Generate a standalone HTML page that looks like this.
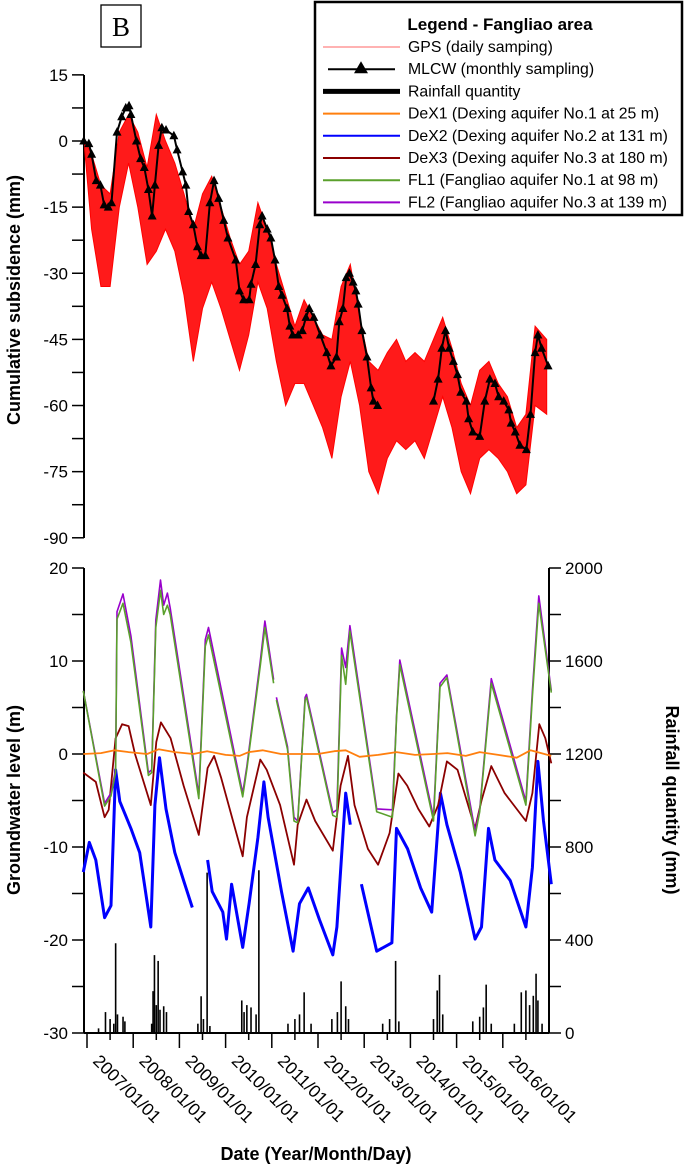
<!DOCTYPE html>
<html><head><meta charset="utf-8"><style>
html,body{margin:0;padding:0;background:#fff;}
svg{display:block;font-family:"Liberation Sans",Arial,sans-serif;}
</style></head><body>
<svg id="chart" width="685" height="1166" viewBox="0 0 685 1166" xmlns="http://www.w3.org/2000/svg">
<g id="topPanel"></g>
<g id="botPanel"></g>
<g>
<rect x="101" y="5" width="40" height="42" fill="#fff" stroke="#000" stroke-width="1.3"/>
<text x="121" y="36" text-anchor="middle" font-family="Liberation Serif,serif" font-size="27">B</text>
</g>
<text transform="translate(20,300) rotate(-90)" text-anchor="middle" font-weight="bold" font-size="18">Cumulative subsidence (mm)</text>
<text transform="translate(20,800) rotate(-90)" text-anchor="middle" font-weight="bold" font-size="18">Groundwater level (m)</text>
<text transform="translate(666,800) rotate(90)" text-anchor="middle" font-weight="bold" font-size="18">Rainfall quantity (mm)</text>
<text x="316" y="1160" text-anchor="middle" font-weight="bold" font-size="18">Date (Year/Month/Day)</text>
<g id="legend">
<rect x="315" y="2" width="367" height="213" fill="#fff" stroke="#000" stroke-width="2.5"/>
<text x="500" y="30" text-anchor="middle" font-weight="bold" font-size="17">Legend - Fangliao area</text>
</g>
</svg>
<script>
// Subsidence (top panel)
const mlcwT=[2006.93,2007.04,2007.10,2007.20,2007.29,2007.37,2007.46,2007.53,2007.65,2007.75,2007.84,2007.91,2007.95,2008.07,2008.16,2008.24,2008.33,2008.41,2008.47,2008.55,2008.62,2008.71,2008.88,2008.95,2009.07,2009.14,2009.20,2009.30,2009.39,2009.47,2009.56,2009.66,2009.75,2009.85,2009.96,2010.05,2010.22,2010.30,2010.39,2010.51,2010.55,2010.65,2010.74,2010.79,2010.90,2010.98,2011.07,2011.15,2011.22,2011.33,2011.39,2011.45,2011.57,2011.66,2011.74,2011.81,2011.91,2012.05,2012.19,2012.28,2012.40,2012.46,2012.54,2012.61,2012.68,2012.76,2012.82,2012.87,2012.95,2013.06,2013.15,2013.20,2013.29];
const mlcwV=[0,-0.6,-3,-9,-10,-14.5,-15,-14,2,5.5,7.5,8,6,0,-4,-6,-11,-17,-10,-1,3,2.5,1.2,-2,-7,-10,-16,-19,-24,-26,-26,-14,-9,-13,-18,-22,-27,-34,-36,-36,-32.5,-28,-19,-17,-20,-22,-27,-33,-35,-38,-42,-44,-44,-43,-40,-38,-40,-44,-48,-51,-49,-41,-38,-31,-30,-32,-34,-37,-43,-49,-56,-59,-60];
const mlcwT2=[2014.50,2014.60,2014.68,2014.76,2014.84,2014.93,2015.02,2015.09,2015.21,2015.26,2015.35,2015.50,2015.61,2015.72,2015.83,2015.91,2016.02,2016.13,2016.18,2016.27,2016.37,2016.51,2016.60,2016.70,2016.76,2016.84,2016.98];
const mlcwV2=[-59,-54,-47,-43,-47,-50,-53,-57,-59,-63,-66,-67,-59,-54,-55,-58,-59,-61,-64,-66,-69,-70,-62,-48,-44,-47,-51];
const gpsT=[2006.95,2007.1,2007.3,2007.5,2007.7,2007.9,2008.1,2008.3,2008.5,2008.7,2008.9,2009.1,2009.3,2009.5,2009.7,2009.9,2010.1,2010.3,2010.5,2010.7,2010.9,2011.1,2011.3,2011.5,2011.7,2011.9,2012.1,2012.3,2012.5,2012.7,2012.9,2013.1,2013.3,2013.5,2013.7,2013.9,2014.1,2014.3,2014.5,2014.7,2014.9,2015.1,2015.3,2015.5,2015.7,2015.9,2016.1,2016.3,2016.5,2016.7,2016.95];
const gpsHi=[0,-3,-10,-12,2,6,2,-6,6,0,-5,-12,-20,-12,-8,-15,-22,-28,-25,-14,-20,-28,-35,-42,-36,-40,-44,-45,-33,-28,-40,-50,-52,-48,-45,-50,-48,-50,-45,-40,-47,-55,-60,-52,-50,-55,-58,-65,-62,-42,-45];
const gpsLo=[-2,-20,-33,-33,-15,-5,-15,-28,-25,-20,-25,-35,-50,-38,-32,-38,-45,-52,-44,-32,-38,-50,-60,-55,-55,-60,-65,-72,-58,-50,-60,-75,-80,-72,-68,-70,-68,-72,-65,-58,-65,-75,-80,-72,-70,-72,-75,-80,-78,-60,-62];
const subTicks=[15,0,-15,-30,-45,-60,-75,-90];
// Groundwater (bottom panel)
const fl2T=[2006.92,2007.38,2007.52,2007.62,2007.65,2007.78,2007.95,2008.33,2008.40,2008.49,2008.59,2008.66,2008.74,2008.80,2009.42,2009.56,2009.63,2010.37,2010.46,2010.75,2010.85,2011.04];
const fl2V=[6.8,-5.3,-4.2,-1.7,15.3,17.2,12.7,-2,-1.7,14.4,18.7,16,17.3,15.7,-4.4,12.3,13.6,-4.2,-1.3,10,14.3,8];
const fl2Tb=[2011.10,2011.34,2011.48,2011.56,2011.72,2011.75,2012.32,2012.41,2012.51,2012.60,2012.69,2013.27,2013.61,2013.70,2013.77,2014.50,2014.64,2014.79,2015.40,2015.50,2015.75,2016.50,2016.64,2016.78,2017.05];
const fl2Vb=[6.1,0.8,-6.8,-7.2,6.1,6.4,-6.3,-6,11.4,9.3,13.8,-5.9,-6,4,10.1,-6.8,7.6,8.5,-8.3,-6,8.1,-5.1,6.8,17,6.8];
const fl1V=[6.8,-5.6,-4.5,-2,14.5,16.2,12,-2.3,-2,13.6,17.6,15,16,15,-4.8,11.6,12.8,-4.6,-1.6,9.5,13.6,7.6];
const fl1Vb=[5.8,0.5,-7.2,-7.4,5.8,6.1,-6.6,-6.8,10.6,7.5,13.2,-6.2,-6.8,3.8,9.6,-7.2,7.2,8.2,-8.8,-6.2,7.6,-5.5,6.2,16.2,6.6];
const dex3T=[2006.92,2007.19,2007.38,2007.47,2007.62,2007.76,2007.90,2008.04,2008.38,2008.50,2008.60,2008.81,2009.09,2009.42,2009.61,2009.75,2009.90,2010.37,2010.46,2010.75,2010.89,2011.18,2011.48,2011.56,2011.75,2011.94,2012.32,2012.49,2012.65,2012.79,2013.08,2013.30,2013.55,2013.74,2013.93,2014.17,2014.41,2014.60,2014.79,2015.02,2015.40,2015.54,2015.75,2016.04,2016.50,2016.64,2016.79,2016.92,2017.05];
const dex3V=[-2,-3,-6.8,-6,1.7,3.2,3,0,-5.5,1.3,3.4,1.7,-3.4,-8.7,-1.5,-0.2,-2.5,-11,-6.8,-0.6,-1.7,-5.5,-11.9,-7.6,-4.9,-7.2,-10.4,-3.4,-0.2,-5.5,-10.2,-11.9,-8.5,-2.1,-3.4,-5.9,-7.8,-5.5,-0.8,-1.7,-8,-5,-1.3,-4.2,-7.2,-4.2,3.2,1.7,-1];
const dex2T=[2006.92,2007.05,2007.19,2007.38,2007.52,2007.62,2007.71,2007.95,2008.14,2008.38,2008.47,2008.57,2008.71,2008.90,2009.09,2009.28];
const dex2V=[-12.7,-9.5,-11.4,-17.6,-16.3,-1.7,-5.1,-8,-10.6,-18.6,-5.5,-0.4,-5.9,-10.6,-13.6,-16.5];
const dex2Tb=[2009.61,2009.71,2009.94,2010.02,2010.13,2010.37,2010.51,2010.70,2010.83,2010.92,2011.21,2011.46,2011.60,2011.79,2012.03,2012.32,2012.41,2012.60,2012.70];
const dex2Vb=[-11.4,-14.8,-17,-19.9,-14,-20.8,-16,-9,-3,-6.8,-14.8,-21.2,-16.1,-14.4,-17.8,-21.6,-18.6,-4.2,-7.6];
const dex2Tc=[2012.94,2013.27,2013.60,2013.70,2013.94,2014.22,2014.46,2014.65,2014.79,2015.08,2015.40,2015.54,2015.69,2015.83,2016.16,2016.50,2016.64,2016.76,2016.88,2017.05];
const dex2Vc=[-14,-21.2,-20.3,-8,-10.2,-14.4,-17,-4.2,-7.6,-12.7,-19.9,-18.6,-8,-11.4,-13.6,-18.6,-12.2,-0.8,-7.2,-14];
const dex1T=[2006.92,2007.3,2007.6,2007.9,2008.3,2008.55,2008.9,2009.3,2009.6,2010.0,2010.3,2010.5,2010.8,2011.2,2011.6,2012.0,2012.35,2012.6,2012.9,2013.3,2013.7,2014.1,2014.5,2014.8,2015.2,2015.5,2015.9,2016.3,2016.6,2017.05];
const dex1V=[0,0.1,0.4,0.2,0,0.5,0.2,0,0.3,-0.1,-0.2,0.2,0.4,0,0,0,0.3,0.4,-0.3,-0.1,0.2,-0.1,0,0.1,-0.2,0.2,-0.1,-0.4,0.4,-0.2];
const rainT=[2007.25,2007.40,2007.50,2007.58,2007.62,2007.66,2007.78,2007.82,2008.40,2008.43,2008.46,2008.50,2008.54,2008.58,2008.66,2008.72,2009.40,2009.47,2009.52,2009.60,2009.66,2010.35,2010.40,2010.46,2010.55,2010.66,2010.72,2011.35,2011.50,2011.60,2011.70,2011.85,2012.30,2012.42,2012.50,2012.60,2012.66,2013.40,2013.55,2013.68,2013.75,2014.50,2014.58,2014.63,2014.70,2015.35,2015.50,2015.58,2015.64,2015.75,2016.25,2016.40,2016.50,2016.58,2016.66,2016.72,2016.76,2016.85];
const rainV=[20,90,60,40,386,80,70,50,40,180,335,120,310,100,115,90,40,158,60,690,30,140,90,120,110,80,700,40,60,80,175,40,60,90,222,115,60,40,60,310,50,60,183,250,80,50,70,110,208,40,40,175,183,120,160,255,140,40];
const gwTicks=[20,10,0,-10,-20,-30];
const rainTicks=[2000,1600,1200,800,400,0];
const yearLabels=["2007/01/01","2008/01/01","2009/01/01","2010/01/01","2011/01/01","2012/01/01","2013/01/01","2014/01/01","2015/01/01","2016/01/01"];

const NS="http://www.w3.org/2000/svg";
function mk(tag,attrs,parent){const e=document.createElementNS(NS,tag);for(const k in attrs)e.setAttribute(k,attrs[k]);parent.appendChild(e);return e;}
const X=t=>87+(t-2007)*46.2;
const YS=v=>141-v*(66.13/15);
const YG=v=>1033-(v+30)*9.3;
const YR=r=>1033-r*0.2325;
const topG=document.getElementById('topPanel'),botG=document.getElementById('botPanel'),leg=document.getElementById('legend');
function pts(T,V,fy){return T.map((t,i)=>X(t).toFixed(1)+','+fy(V[i]).toFixed(1)).join(' ');}

let a=mk('line',{x1:84,y1:75,x2:84,y2:538,stroke:'#000','stroke-width':2},topG);


for(let v=15;v>=-90;v-=7.5){const tk=mk('line',{x1:72,x2:84,y1:YS(v),y2:YS(v),stroke:'#000','stroke-width':1.5},topG);

}
subTicks.forEach(v=>{const t=mk('text',{x:68,y:YS(v)+6,'text-anchor':'end','font-size':17},topG);t.textContent=v;

});
const band=mk('polygon',{points:pts(gpsT,gpsHi,YS)+' '+pts(gpsT.slice().reverse(),gpsLo.slice().reverse(),YS),fill:'#ff1a1a',stroke:'#ff0000','stroke-width':1},topG);


[[mlcwT,mlcwV],[mlcwT2,mlcwV2]].forEach(([T,V])=>{
const l=mk('polyline',{points:pts(T,V,YS),fill:'none',stroke:'#000','stroke-width':2},topG);


T.forEach((t,i)=>{const x=X(t),y=YS(V[i]);const p=mk('polygon',{points:`${x},${y-5} ${x-4.5},${y+3.5} ${x+4.5},${y+3.5}`,fill:'#000'},topG);

});
});

[[84,568,84,1033],[549,568,549,1033],[84,1033,549,1033]].forEach(c=>{const l=mk('line',{x1:c[0],y1:c[1],x2:c[2],y2:c[3],stroke:'#000','stroke-width':2},botG);

});
for(let v=20;v>=-30;v-=5){const tk=mk('line',{x1:72,x2:84,y1:YG(v),y2:YG(v),stroke:'#000','stroke-width':1.5},botG);

}
gwTicks.forEach(v=>{const t=mk('text',{x:68,y:YG(v)+6,'text-anchor':'end','font-size':17},botG);t.textContent=v;

});
for(let r=0;r<=2000;r+=200){const tk=mk('line',{x1:549,x2:561,y1:YR(r),y2:YR(r),stroke:'#000','stroke-width':1.5},botG);

}
rainTicks.forEach(r=>{const t=mk('text',{x:565,y:YR(r)+6,'font-size':17},botG);t.textContent=r;

});
for(let k=0;k<20;k++){const t=2007+k*0.5;const x=X(t);const tk=mk('line',{x1:x,x2:x,y1:1033,y2:k%2?1040:1048,stroke:'#000','stroke-width':1.5},botG);

}
yearLabels.forEach((s,i)=>{const x=X(2007+i)+5;const t=mk('text',{transform:`translate(${x},1062) rotate(45)`,'font-size':17.5},botG);t.textContent=s;

});
rainT.forEach((t,i)=>{const x=X(t);const b=mk('line',{x1:x,x2:x,y1:1033,y2:YR(rainV[i]),stroke:'#000','stroke-width':1.6},botG);

});
function series(T,V,color,w,name){const l=mk('polyline',{points:pts(T,V,YG),fill:'none',stroke:color,'stroke-width':w,'stroke-linejoin':'round'},botG);

}
series(dex2T,dex2V,'#0000ff',3,'dex2-line');
series(dex2Tb,dex2Vb,'#0000ff',3,'dex2-line');
series(dex2Tc,dex2Vc,'#0000ff',3,'dex2-line');
series(dex3T,dex3V,'#8b0000',1.8,'dex3-line');
series(fl2T,fl2V,'#9900cc',1.6,'fl2-line');
series(fl2Tb,fl2Vb,'#9900cc',1.6,'fl2-line');
series(fl2T,fl1V,'#5aa02c',1.6,'fl1-line');
series(fl2Tb,fl1Vb,'#5aa02c',1.6,'fl1-line');
series(dex1T,dex1V,'#ff7f0e',1.8,'dex1-line');

const legNames=["GPS (daily samping)","MLCW (monthly sampling)","Rainfall quantity","DeX1 (Dexing aquifer No.1 at 25 m)","DeX2 (Dexing aquifer No.2 at 131 m)","DeX3 (Dexing aquifer No.3 at 180 m)","FL1 (Fangliao aquifer No.1 at 98 m)","FL2 (Fangliao aquifer No.3 at 139 m)"];
const legColors=['#ff6666','#000','#000','#ff7f0e','#0000ff','#8b0000','#5aa02c','#9900cc'];
const legWidths=[1,2,5,2,2,2,2,2];
legNames.forEach((s,i)=>{const y=47+i*22.2;
const l=mk('line',{x1:i==1?328:323,x2:i==1?395:400,y1:y,y2:y,stroke:legColors[i],'stroke-width':legWidths[i]},leg);


if(i==1){const m=mk('polygon',{points:`361,${y-8} 354,${y+4} 368,${y+4}`,fill:'#000'},leg);

}
const t=mk('text',{x:408,y:y+5,'font-size':15.8},leg);t.textContent=s;

});
</script>
</body></html>
